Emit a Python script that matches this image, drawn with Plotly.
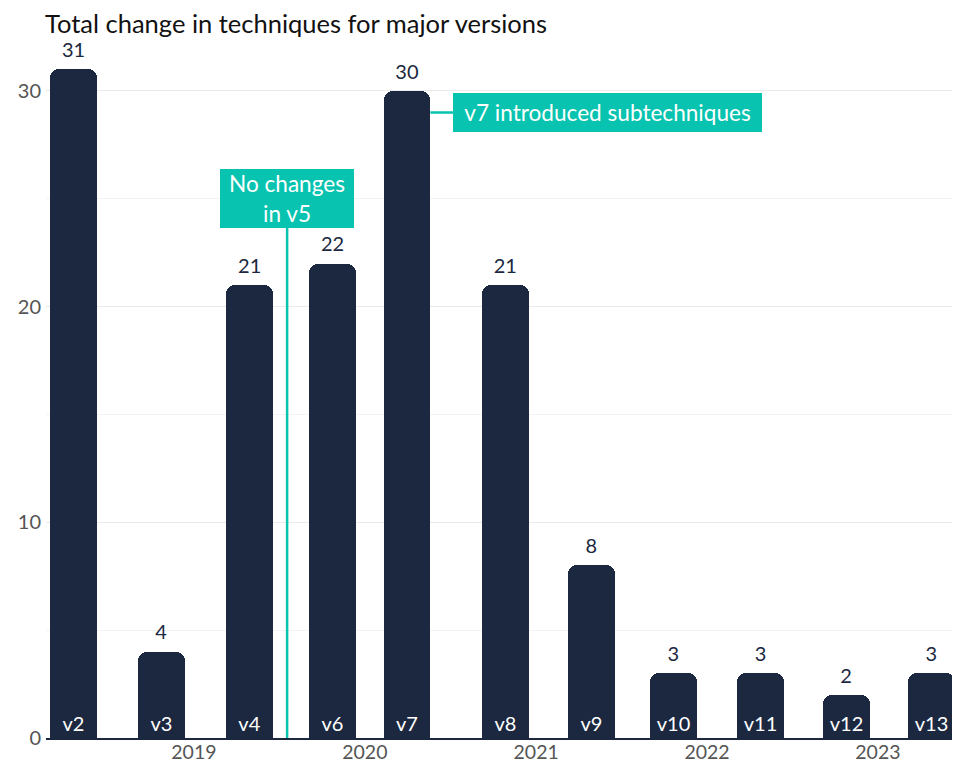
import datetime as _dt
import plotly.graph_objects as go

versions = ["v2", "v3", "v4", "v6", "v7", "v8", "v9", "v10", "v11", "v12", "v13"]
release_dates = ["2018-04-19", "2018-10-23", "2019-04-30", "2019-10-24", "2020-03-31",
                 "2020-10-27", "2021-04-29", "2021-10-21", "2022-04-25", "2022-10-25", "2023-04-25"]
technique_changes = [31, 4, 21, 22, 30, 21, 8, 3, 3, 2, 3]
v5_date = "2019-07-19"
v7_note_y = 29

NAVY = "#1b2840"
TEAL = "#07c3b0"
FONT = "Lato"
BAR_DAYS = 100
BAR_WIDTH_MS = BAR_DAYS * 86400000

# page body has an 8px margin, so the figure is drawn 8px in from the window corner
W, H = 952, 754

fig = go.Figure()
fig.add_trace(go.Bar(
    x=release_dates, y=technique_changes, width=BAR_WIDTH_MS,
    marker=dict(color=NAVY, cornerradius=9, line=dict(width=0)),
    text=versions, textposition="inside", insidetextanchor="start",
    textangle=0, constraintext="none",
    insidetextfont=dict(color="white", size=20, family=FONT),
    hoverinfo="x+y", showlegend=False,
))
fig.add_trace(go.Scatter(
    x=release_dates, y=technique_changes, mode="markers+text",
    marker=dict(size=10, opacity=0, color=NAVY),
    text=[str(v) for v in technique_changes], textposition="top center",
    textfont=dict(color=NAVY, size=20, family=FONT),
    cliponaxis=False, showlegend=False, hoverinfo="skip",
))

fig.add_annotation(
    x=v5_date, y=0, xref="x", yref="y", text="No changes<br>in v5",
    showarrow=True, arrowhead=0, arrowwidth=2.5, arrowcolor=TEAL,
    ax=0, ay=-539.5, standoff=0,
    width=128, height=53,
    bgcolor=TEAL, bordercolor=TEAL, borderpad=2, borderwidth=1,
    font=dict(color="white", size=22.6, family=FONT), align="center",
)
v7_idx = versions.index("v7")
v7_right = (_dt.datetime.fromisoformat(release_dates[v7_idx])
            + _dt.timedelta(days=BAR_DAYS / 2)).strftime("%Y-%m-%d %H:%M")
fig.add_annotation(
    x=v7_right, y=v7_note_y, xref="x", yref="y", text="v7 introduced subtechniques",
    showarrow=True, arrowhead=0, arrowwidth=2.5, arrowcolor=TEAL,
    ax=177, ay=0, standoff=0,
    width=303, height=33,
    bgcolor=TEAL, bordercolor=TEAL, borderpad=2, borderwidth=1,
    font=dict(color="white", size=22.6, family=FONT), align="center",
)

fig.update_layout(
    width=W, height=H,
    margin=dict(l=38, r=2, t=42, b=24),
    paper_bgcolor="white", plot_bgcolor="white",
    font=dict(family=FONT, size=20, color="#555555"),
    title=dict(text="Total change in techniques for major versions",
               x=37 / W, xref="container", xanchor="left",
               y=1 - 16 / H, yref="container", yanchor="middle",
               pad=dict(l=0, r=0, t=0, b=0),
               font=dict(size=25.5, color="#111111", family=FONT)),
    bargap=0,
    xaxis=dict(type="date", range=["2018-02-19", "2023-06-21"], automargin=False,
               dtick="M12", tick0="2019-01-01", tickformat="%Y",
               showgrid=False, showline=True, linecolor=NAVY, linewidth=2,
               ticks="", ticklabelstandoff=-4,
               tickfont=dict(size=19.5, color="#555555", family=FONT), zeroline=False),
    yaxis=dict(range=[0, 31.9], dtick=10, tick0=0, showgrid=True, automargin=False,
               gridcolor="#ebebeb", gridwidth=1, zeroline=False, showline=False,
               ticks="", ticklabelstandoff=4,
               tickfont=dict(size=20, color="#555555", family=FONT),
               minor=dict(dtick=5, showgrid=True, gridcolor="#f3f3f3", gridwidth=1)),
)

fig.write_html("out.html")
